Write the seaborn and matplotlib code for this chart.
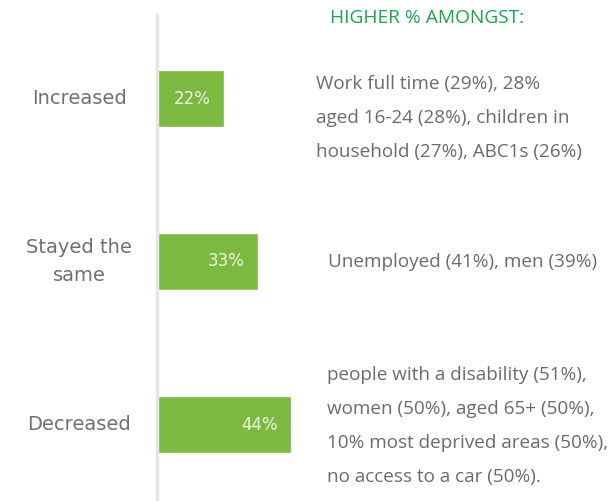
import matplotlib
matplotlib.use("Agg")
import matplotlib.pyplot as plt
import matplotlib.transforms as mtransforms
import seaborn as sns
import pandas as pd

categories = ["Increased", "Stayed the\nsame", "Decreased"]
values = [22, 33, 44]
value_labels = ["22%", "33%", "44%"]
header = "HIGHER % AMONGST:"
notes = [
    ["Work full time (29%), 28%", "aged 16-24 (28%), children in", "household (27%), ABC1s (26%)"],
    ["Unemployed (41%), men (39%)"],
    ["people with a disability (51%),", "women (50%), aged 65+ (50%),",
     "10% most deprived areas (50%),", "no access to a car (50%)."],
]

sns.set_theme(style="white")
plt.rcParams['font.family'] = ['DejaVu Sans']

W, H = 614, 501
fig = plt.figure(figsize=(W / 100, H / 100), dpi=100)
top_px = 15
ax = fig.add_axes([157 / W, 0, 300 / W, 1 - top_px / H])

df = pd.DataFrame({"cat": categories, "val": values})
sns.barplot(data=df, y="cat", x="val", orient="h", color="#7cb940",
            saturation=1, width=0.345, ax=ax)

c0, step = 98.5, 163.0
ax.set_xlim(0, 300 / 3.05)
ax.set_ylim((501 - c0) / step, -(c0 - top_px) / step)
ax.set_xlabel("")
ax.set_ylabel("")
ax.set_xticks([])
ax.set_yticks([])
for s in ["top", "right", "bottom"]:
    ax.spines[s].set_visible(False)
ax.spines["left"].set_color("#e6e6e6")
ax.spines["left"].set_linewidth(2.5)

blend = mtransforms.blended_transform_factory(fig.transFigure, ax.transData)
for i, (c, v, lab) in enumerate(zip(categories, values, value_labels)):
    ax.text(v - 4.3, i, lab, color="white", ha="right", va="center",
            fontsize=12, alpha=0.85)
    ax.text(79 / W, i, c, transform=blend, ha="center", va="center",
            fontsize=14, color="#707070", linespacing=1.55)

fig.text(330 / W, 1 - 23 / H, header, color="#1aa650", fontsize=13.8,
         family="Open Sans", ha="left", va="baseline")

starts = [(316, 84), (328, 262), (327, 375)]
for (x0, y0), lines in zip(starts, notes):
    for j, line in enumerate(lines):
        fig.text(x0 / W, 1 - (y0 + 5 + j * 34) / H, line, color="#6b6b6b",
                 fontsize=13.6, family="Open Sans", ha="left", va="baseline")

fig.savefig("out.png", dpi=100)
